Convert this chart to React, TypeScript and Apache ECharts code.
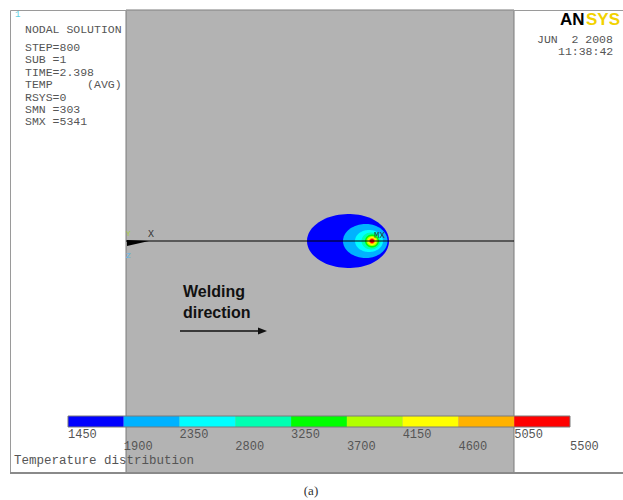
import React, { useEffect, useRef } from "react";
import * as echarts from "echarts";

// Contour levels (temperature band lower bounds) and their colours
const levels = [1450, 1900, 2350, 2800, 3250, 3700, 4150, 4600, 5050, 5500];
const levelColors = ["#0000ff", "#00b2ff", "#00ffff", "#00ffb2", "#00ff00", "#b2ff00", "#ffff00", "#ffb200", "#ff0000"];
const upperLabels = [1450, 2350, 3250, 4150, 5050];
const lowerLabels = [1900, 2800, 3700, 4600, 5500];

// Isotherm shapes (one per level): centre along weld line, rear / front half-length, half-width
const contourCenterX = [223, 240, 243, 245, 246, 246, 246, 246, 246];
const contourRearHalf = [42, 23, 14, 9.5, 7, 5.5, 4.3, 3.2, 2.2];
const contourFrontHalf = [40, 21.5, 14, 9.5, 7, 5.5, 4.3, 3.2, 2.2];
const contourHalfWidth = [27, 17, 11, 8.5, 6.5, 5, 4, 3, 2.2];

// Plate extent (weld line at y = 0)
const plateX = [0, 388];
const plateY = [-232, 231];

const infoLines = ["STEP=800", "SUB =1", "TIME=2.398", "TEMP     (AVG)", "RSYS=0", "SMN =303", "SMX =5341"];

const MONO = "Liberation Mono, DejaVu Sans Mono, monospace";

export default function App() {
  const ref = useRef<HTMLDivElement>(null);
  useEffect(() => {
    if (!ref.current) return;
    const chart = echarts.init(ref.current, null, { renderer: "svg" });

    const txt = (text: string, x: number, y: number, font: string, fill: string, extra: any = {}) => ({
      type: "text",
      x,
      y,
      z: 50,
      style: { text, font, fill, verticalAlign: "middle", align: "left", ...extra },
    });

    const graphics: any[] = [
      {
        type: "rect",
        z: 40,
        shape: { x: 10.5, y: 10.5, width: 700, height: 462 },
        style: { fill: "none", stroke: "#9a9a9a", lineWidth: 1 },
      },
      {
        type: "line",
        z: 41,
        shape: { x1: 10, y1: 473, x2: 623, y2: 473 },
        style: { stroke: "#8a8a8a", lineWidth: 2 },
      },
      txt("1", 15, 15, "9px " + MONO, "#5fd0e0"),
      txt("NODAL SOLUTION", 25, 29, "11.5px " + MONO, "#555"),
      ...infoLines.map((l, i) => txt(l, 25, 47.5 + i * 12.4, "11.5px " + MONO, "#555")),
      txt("AN", 560, 19.5, "bold 17px Liberation Sans, Arial, sans-serif", "#000"),
      txt("SYS", 586, 19.5, "bold 17px Liberation Sans, Arial, sans-serif", "#f2d200"),
      txt("JUN  2 2008", 537, 39, "11.5px " + MONO, "#555"),
      txt("11:38:42", 558, 51.5, "11.5px " + MONO, "#555"),
      {
        type: "polygon",
        z: 45,
        shape: { points: [[127, 240], [149, 241], [127, 246]] },
        style: { fill: "#000" },
      },
      txt("X", 148, 234, "10px " + MONO, "#333"),
      txt("Y", 126, 233, "8px " + MONO, "#a8d040"),
      txt("Z", 126, 255, "8px " + MONO, "#5ab8e8"),
      txt("Welding", 183, 291, "bold 16px Liberation Sans, Arial, sans-serif", "#111"),
      txt("direction", 183, 312, "bold 16px Liberation Sans, Arial, sans-serif", "#111"),
      {
        type: "line",
        z: 45,
        shape: { x1: 180, y1: 331, x2: 260, y2: 331 },
        style: { stroke: "#111", lineWidth: 1.3 },
      },
      {
        type: "polygon",
        z: 45,
        shape: { points: [[258, 327.5], [267, 331], [258, 334.5]] },
        style: { fill: "#111" },
      },
      txt("Temperature distribution", 14, 460.5, "12.5px " + MONO, "#555"),
      txt("(a)", 311, 490, "13px Liberation Serif, serif", "#333", { align: "center" }),
    ];

    const legendData = levelColors.map((c, i) => [levels[i], levels[i + 1], i]);

    const legendAxis = (values: number[], offset: number) => ({
      gridIndex: 1,
      type: "value",
      min: levels[0],
      max: levels[levels.length - 1],
      position: "bottom",
      offset,
      axisLine: { show: false },
      axisTick: { show: false },
      splitLine: { show: false },
      axisLabel: {
        customValues: values,
        formatter: (v: number) => String(v),
        margin: 2,
        align: "left",
        color: "#555",
        fontFamily: MONO,
        fontSize: 12,
        showMinLabel: true,
        showMaxLabel: true,
      },
    });

    chart.setOption({
      animation: false,
      backgroundColor: "#fff",
      grid: [
        {
          left: 126,
          top: 10,
          width: 388,
          height: 463,
          show: true,
          backgroundColor: "#b3b3b3",
          borderColor: "#7a7a7a",
          borderWidth: 1,
        },
        { left: 68, top: 416, width: 502, height: 11 },
      ],
      xAxis: [
        { gridIndex: 0, type: "value", min: plateX[0], max: plateX[1], show: false },
        legendAxis(upperLabels, 0),
        legendAxis(lowerLabels, 12),
      ],
      yAxis: [
        { gridIndex: 0, type: "value", min: plateY[0], max: plateY[1], show: false },
        { gridIndex: 1, type: "value", min: 0, max: 1, show: false },
      ],
      series: [
        {
          type: "custom",
          xAxisIndex: 0,
          yAxisIndex: 0,
          z: 2,
          data: contourCenterX.map((cx, i) => [cx, 0, i]),
          renderItem: (params: any, api: any) => {
            const i = params.dataIndex;
            const pts: number[][] = [];
            const n = 90;
            for (let k = 0; k < n; k++) {
              const t = (k / n) * Math.PI * 2;
              const c = Math.cos(t);
              const s = Math.sin(t);
              const rx = c < 0 ? contourRearHalf[i] : contourFrontHalf[i];
              pts.push(api.coord([contourCenterX[i] + rx * c, contourHalfWidth[i] * s]));
            }
            const children: any[] = [
              { type: "polygon", shape: { points: pts }, style: { fill: levelColors[i] } },
            ];
            if (i === contourCenterX.length - 1) {
              const p = api.coord([contourCenterX[i], 0]);
              children.push({
                type: "text",
                z2: 20,
                style: {
                  text: "MX",
                  x: p[0] + 2,
                  y: p[1] - 5,
                  font: "9px " + MONO,
                  fill: "#2a4030",
                  verticalAlign: "middle",
                },
              });
            }
            return { type: "group", children };
          },
        },
        {
          type: "line",
          xAxisIndex: 0,
          yAxisIndex: 0,
          z: 3,
          symbol: "none",
          data: [
            [plateX[0], 0],
            [plateX[1], 0],
          ],
          lineStyle: { color: "#000", width: 1.2 },
        },
        {
          type: "custom",
          xAxisIndex: 1,
          yAxisIndex: 1,
          z: 5,
          data: legendData,
          renderItem: (params: any, api: any) => {
            const i = params.dataIndex;
            const p0 = api.coord([levels[i], 1]);
            const p1 = api.coord([levels[i + 1], 0]);
            const children: any[] = [
              {
                type: "rect",
                shape: { x: p0[0], y: p0[1], width: p1[0] - p0[0], height: p1[1] - p0[1] },
                style: { fill: levelColors[i] },
              },
            ];
            if (i === levelColors.length - 1) {
              const a = api.coord([levels[0], 1]);
              const b = api.coord([levels[levels.length - 1], 0]);
              children.push({
                type: "rect",
                z2: 10,
                shape: { x: a[0], y: a[1], width: b[0] - a[0], height: b[1] - a[1] },
                style: { fill: "none", stroke: "#7a7a7a", lineWidth: 1 },
              });
            }
            return { type: "group", children };
          },
        },
      ],
      graphic: graphics,
    });

    return () => chart.dispose();
  }, []);

  return (
    <div
      ref={ref}
      style={{ position: "fixed", left: 0, top: 0, width: 623, height: 500, overflow: "hidden" }}
    />
  );
}
